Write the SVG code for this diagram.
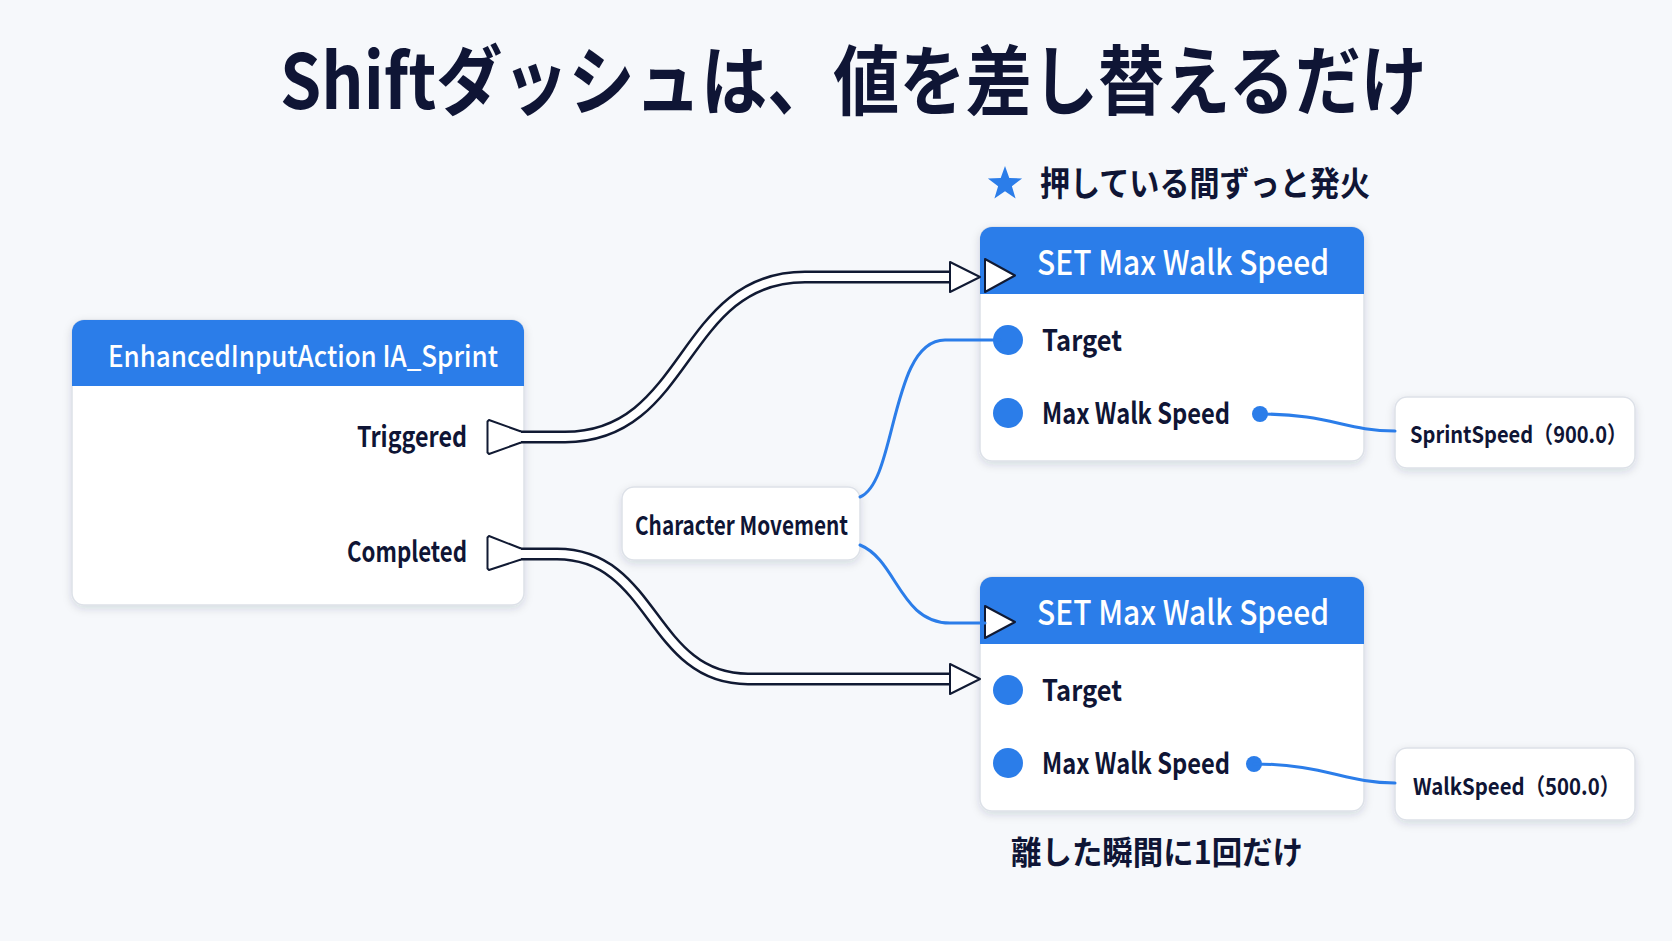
<svg xmlns="http://www.w3.org/2000/svg" width="1672" height="941" viewBox="0 0 1672 941">
<defs>
<filter id="sh" x="-10%" y="-10%" width="120%" height="130%">
<feDropShadow dx="0" dy="3" stdDeviation="4" flood-color="#1a2540" flood-opacity="0.14"/>
</filter>
<clipPath id="c1"><rect x="72" y="320" width="452" height="285" rx="12"/></clipPath>
<clipPath id="c2"><rect x="980" y="227" width="384" height="234" rx="12"/></clipPath>
<clipPath id="c3"><rect x="980" y="577" width="384" height="234" rx="12"/></clipPath>
</defs>
<style>
.bg{fill:#f6f8fb}
.card{fill:#ffffff;stroke:#dde1e8;stroke-width:1.5;filter:url(#sh)}
.hdr{fill:#2b7de9}
.t{font-family:"Noto Sans CJK JP","Noto Sans",sans-serif;fill:#0f1535;font-weight:700}
.w{font-family:"Noto Sans CJK JP","Noto Sans",sans-serif;fill:#ffffff;font-weight:500}
.pin{fill:#2b7de9}
.bw{fill:none;stroke:#2b7de9;stroke-width:3;stroke-linecap:round}
.eo{fill:none;stroke:#111a33;stroke-width:13}
.ei{fill:none;stroke:#ffffff;stroke-width:8}
.ep{fill:#ffffff;stroke:#111a33;stroke-width:2;stroke-linejoin:round}
</style>
<rect class="bg" x="0" y="0" width="1672" height="941"/>

<g id="title">
<text class="t" x="280" y="109" font-size="76" textLength="1147" lengthAdjust="spacingAndGlyphs">Shiftダッシュは、値を差し替えるだけ</text>
</g>

<g id="note-top">
<polygon fill="#2b7de9" points="1005,166 1009.3,178.1 1022.1,178.4 1011.9,186.2 1015.6,198.6 1005,191.2 994.4,198.6 998.1,186.2 987.9,178.4 1000.7,178.1"/>
<text class="t" x="1040" y="196" font-size="34" textLength="330" lengthAdjust="spacingAndGlyphs">押している間ずっと発火</text>
</g>

<g id="note-bottom">
<text class="t" x="1011" y="864" font-size="32" textLength="292" lengthAdjust="spacingAndGlyphs">離した瞬間に1回だけ</text>
</g>

<g id="node-input">
<rect class="card" x="72" y="320" width="452" height="285" rx="12"/>
<rect class="hdr" x="72" y="320" width="452" height="66" clip-path="url(#c1)"/>
<text class="w" x="108" y="367" font-size="29" textLength="390" lengthAdjust="spacingAndGlyphs">EnhancedInputAction IA_Sprint</text>
<text class="t" x="467" y="447" font-size="28" text-anchor="end" textLength="110" lengthAdjust="spacingAndGlyphs">Triggered</text>
<text class="t" x="467" y="562" font-size="28" text-anchor="end" textLength="120" lengthAdjust="spacingAndGlyphs">Completed</text>
</g>

<g id="node-charmove">
<rect class="card" x="622" y="487" width="238" height="73" rx="12"/>
<text class="t" x="635" y="535" font-size="26" textLength="213" lengthAdjust="spacingAndGlyphs">Character Movement</text>
</g>

<g id="node-set-top">
<rect class="card" x="980" y="227" width="384" height="234" rx="12"/>
<rect class="hdr" x="980" y="227" width="384" height="67" clip-path="url(#c2)"/>
<text class="w" x="1037" y="275" font-size="34" textLength="292" lengthAdjust="spacingAndGlyphs">SET Max Walk Speed</text>
<polygon class="ep" points="985,259 1015,275.5 985,292"/>
<circle class="pin" cx="1008" cy="340" r="15"/>
<text class="t" x="1042" y="351" font-size="29" textLength="80" lengthAdjust="spacingAndGlyphs">Target</text>
<circle class="pin" cx="1008" cy="413" r="15"/>
<text class="t" x="1042" y="424" font-size="29" textLength="188" lengthAdjust="spacingAndGlyphs">Max Walk Speed</text>
<circle class="pin" cx="1260" cy="414" r="8"/>
</g>

<g id="node-set-bottom">
<rect class="card" x="980" y="577" width="384" height="234" rx="12"/>
<rect class="hdr" x="980" y="577" width="384" height="67" clip-path="url(#c3)"/>
<text class="w" x="1037" y="625" font-size="34" textLength="292" lengthAdjust="spacingAndGlyphs">SET Max Walk Speed</text>
<polygon class="ep" points="985,606 1015,622 985,638"/>
<circle class="pin" cx="1008" cy="690" r="15"/>
<text class="t" x="1042" y="701" font-size="29" textLength="80" lengthAdjust="spacingAndGlyphs">Target</text>
<circle class="pin" cx="1008" cy="763" r="15"/>
<text class="t" x="1042" y="774" font-size="29" textLength="188" lengthAdjust="spacingAndGlyphs">Max Walk Speed</text>
<circle class="pin" cx="1254" cy="764" r="8"/>
</g>

<g id="node-sprintspeed">
<rect class="card" x="1395" y="397" width="240" height="71" rx="12"/>
<text class="t" x="1410" y="443" font-size="23" textLength="217" lengthAdjust="spacingAndGlyphs">SprintSpeed（900.0）</text>
</g>

<g id="node-walkspeed">
<rect class="card" x="1395" y="748" width="240" height="72" rx="12"/>
<text class="t" x="1413" y="795" font-size="23" textLength="207" lengthAdjust="spacingAndGlyphs">WalkSpeed（500.0）</text>
</g>

<g id="connectors">
<path class="bw" d="M1260,414 C1330,414 1345,431 1395,431"/>
<path class="bw" d="M1254,764 C1325,764 1345,783 1395,783"/>
<path class="bw" d="M860,497 C897,482 890,340 945,340 L1000,340"/>
<path class="bw" d="M860,545 C897,560 900,623 950,623 L985,623"/>

<path class="eo" d="M512,437 L565,437 C690,437 680,277 805,277 L955,277"/>
<path class="ei" d="M512,437 L565,437 C690,437 680,277 805,277 L955,277"/>
<path class="ep" d="M521,431.5 L489,420 L487.5,421.5 L487.5,452.5 L489,454 L521,442.5"/>
<polygon class="ep" points="950,262 980,277 950,292"/>

<path class="eo" d="M512,554 L557,554 C655,554 650,679 748,679 L955,679"/>
<path class="ei" d="M512,554 L557,554 C655,554 650,679 748,679 L955,679"/>
<path class="ep" d="M521,548.5 L489,536 L487.5,537.5 L487.5,568.5 L489,570 L521,559.5"/>
<polygon class="ep" points="950,664 980,679 950,694"/>
</g>
</svg>
